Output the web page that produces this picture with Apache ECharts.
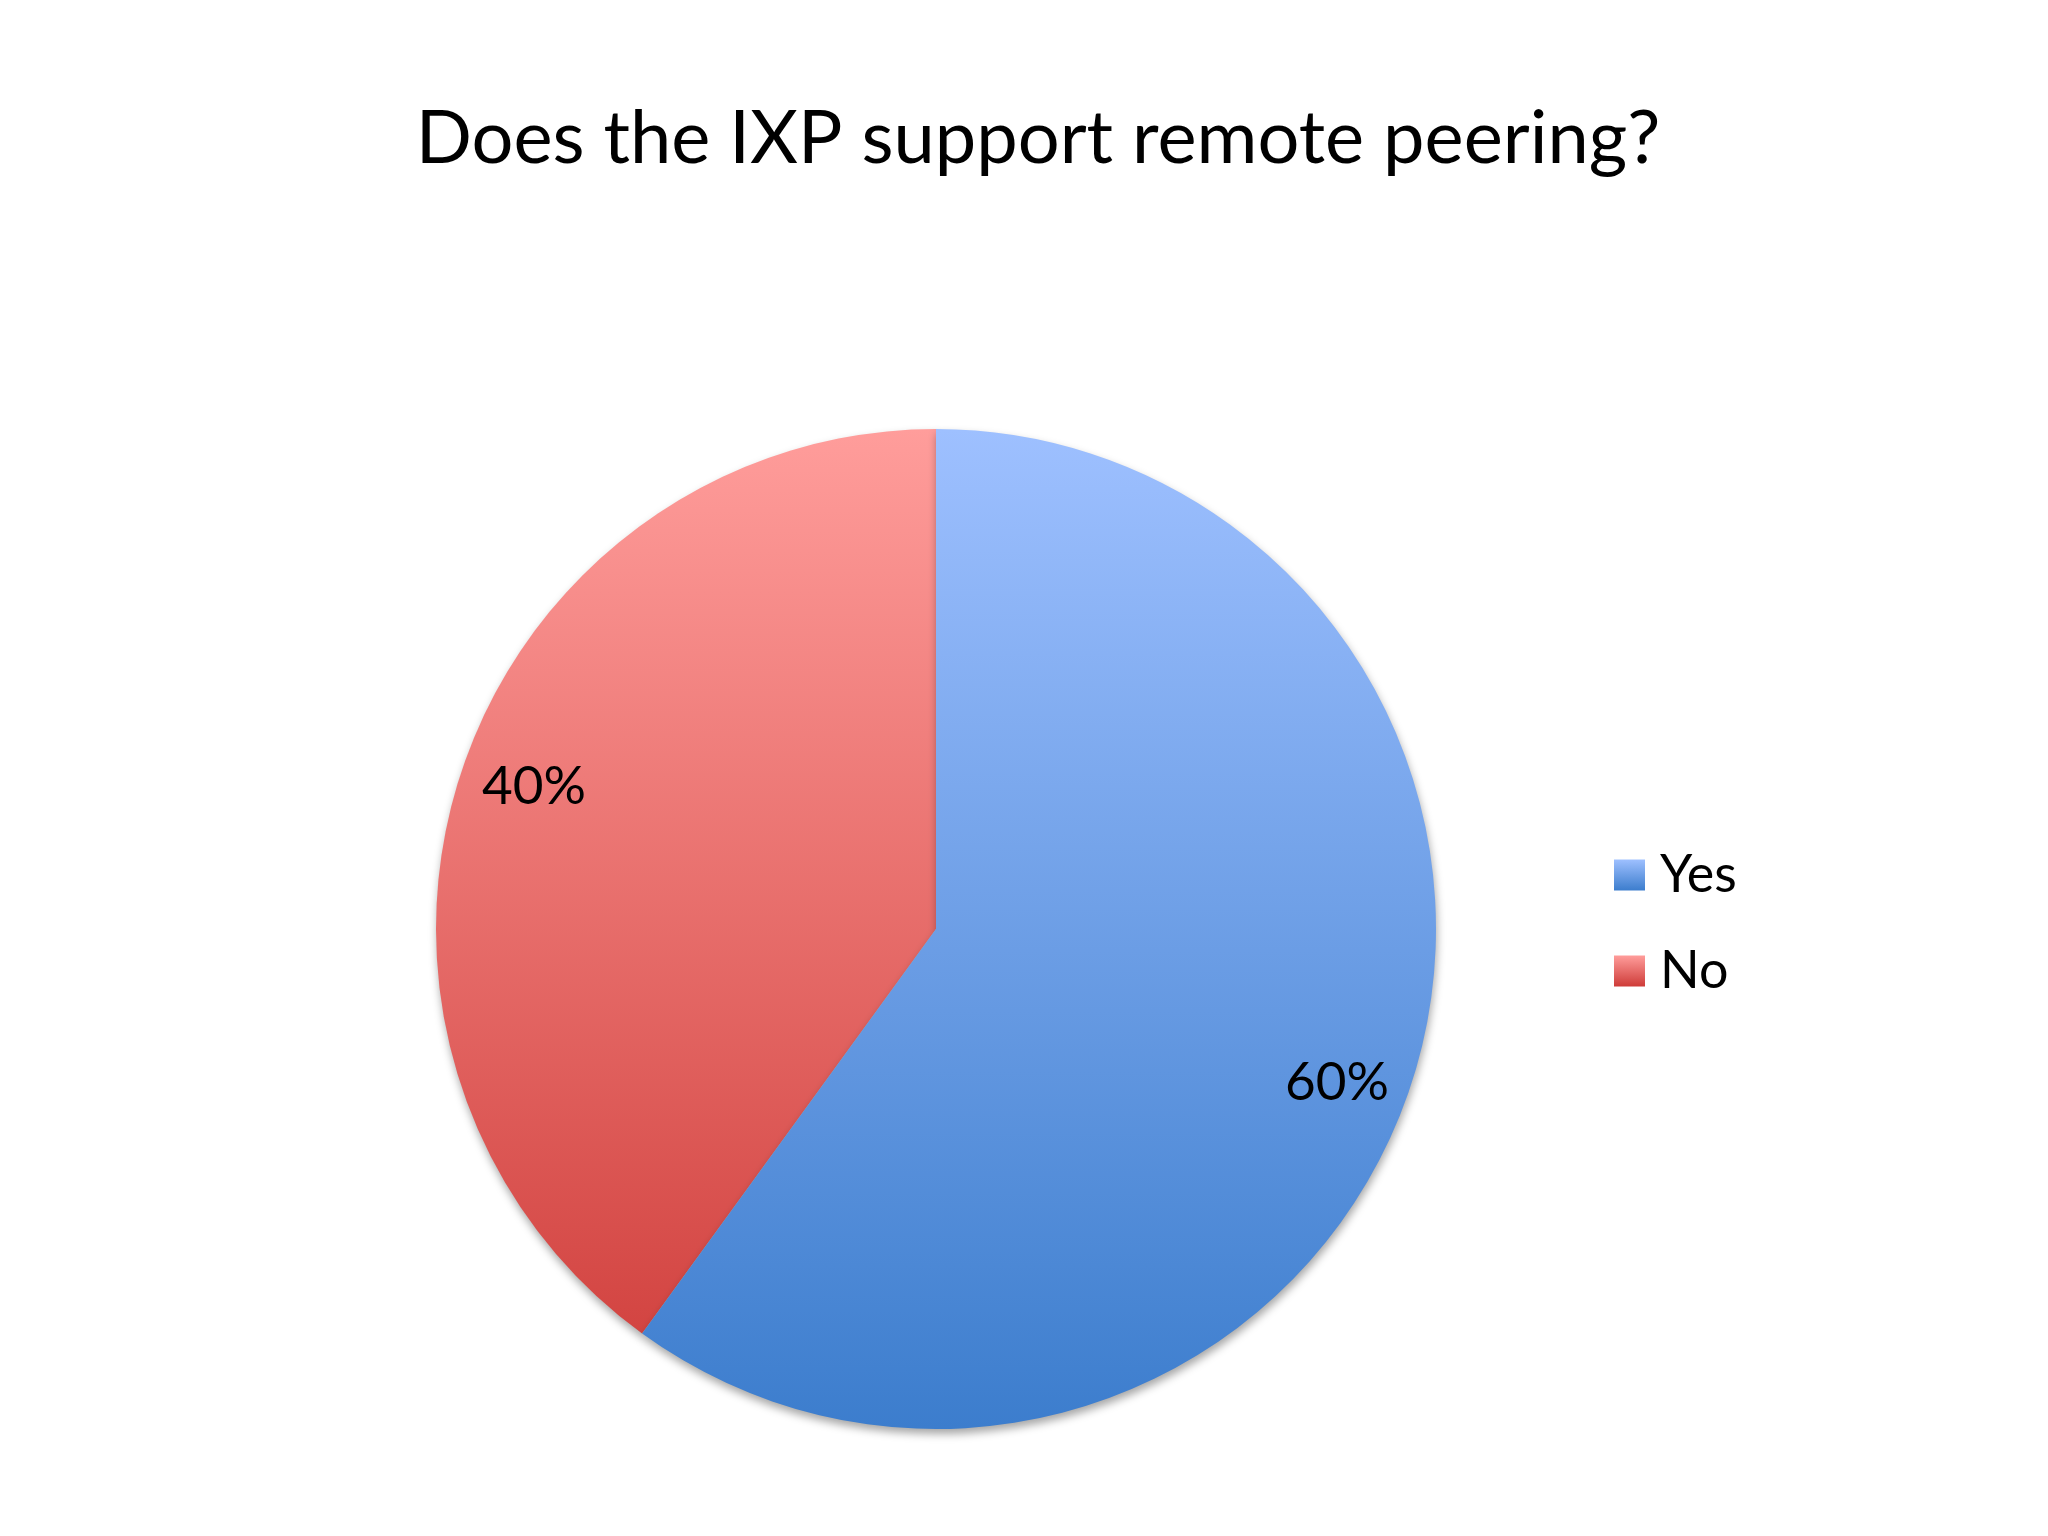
<!DOCTYPE html>
<html>
<head>
<meta charset="utf-8">
<script src="https://cdn.jsdelivr.net/npm/echarts@6/dist/echarts.min.js"></script>
<style>html,body{margin:0;padding:0;background:#fff}#c{width:2048px;height:1536px}</style>
</head>
<body>
<div id="c"></div>
<script>
const titleText = 'Does the IXP support remote peering?';
const categories = ['No', 'Yes'];
const values = [40, 60];
const legendOrder = ['Yes', 'No'];

const cx = 936, cy = 929, R = 500;
const grad = (top, bottom) => new echarts.graphic.LinearGradient(0, cy - R, 0, cy + R, [
  { offset: 0, color: top }, { offset: 1, color: bottom }
], true);
const colors = {
  Yes: ['#9EC0FF', '#3C7DCD'],
  No: ['#FF9D9B', '#CE3B38']
};
const localGrad = (c) => new echarts.graphic.LinearGradient(0, 0, 0, 1, [
  { offset: 0, color: c[0] }, { offset: 1, color: c[1] }
]);

const chart = echarts.init(document.getElementById('c'), null, { renderer: 'canvas' });
chart.setOption({
  backgroundColor: '#ffffff',
  animation: false,
  title: {
    text: titleText,
    left: 1033,
    top: 97,
    textAlign: 'center',
    textStyle: { fontFamily: 'Lato', fontWeight: 'normal', fontSize: 74, color: '#000' }
  },
  legend: {
    orient: 'vertical',
    left: 1609,
    top: 842,
    itemWidth: 31,
    itemHeight: 31,
    itemGap: 40,
    icon: 'rect',
    selectedMode: false,
    data: legendOrder.map(n => ({ name: n, itemStyle: { color: localGrad(colors[n]) } })),
    textStyle: { fontFamily: 'Lato', fontSize: 52, lineHeight: 56, color: '#000', padding: [0, 0, 0, 10] }
  },
  series: [
    {
      type: 'pie',
      center: [cx, cy],
      radius: [0, R],
      startAngle: 90,
      clockwise: false,
      label: { show: false },
      labelLine: { show: false },
      emphasis: { disabled: true },
      silent: true,
      data: categories.map((n, i) => ({
        name: n, value: values[i],
        itemStyle: {
          color: grad(colors[n][0], colors[n][1]),
          shadowColor: 'rgba(0,0,0,0.35)', shadowBlur: 8, shadowOffsetX: 1, shadowOffsetY: 5
        }
      })),
      itemStyle: { borderWidth: 0 }
    },
    {
      type: 'pie',
      center: [cx, cy],
      radius: [R * 0.7, R],
      startAngle: 90,
      clockwise: false,
      silent: true,
      legendHoverLink: false,
      emphasis: { disabled: true },
      itemStyle: { color: 'rgba(0,0,0,0)', borderWidth: 0 },
      labelLine: { show: false },
      label: {
        show: true,
        position: 'inside',
        formatter: p => p.value + '%',
        fontFamily: 'Lato',
        fontSize: 53,
        color: '#000'
      },
      data: categories.map((n, i) => ({
        name: n, value: values[i],
        label: { offset: n === 'Yes' ? [-6, 22] : [5, -10] }
      }))
    }
  ]
});
</script>
</body>
</html>
